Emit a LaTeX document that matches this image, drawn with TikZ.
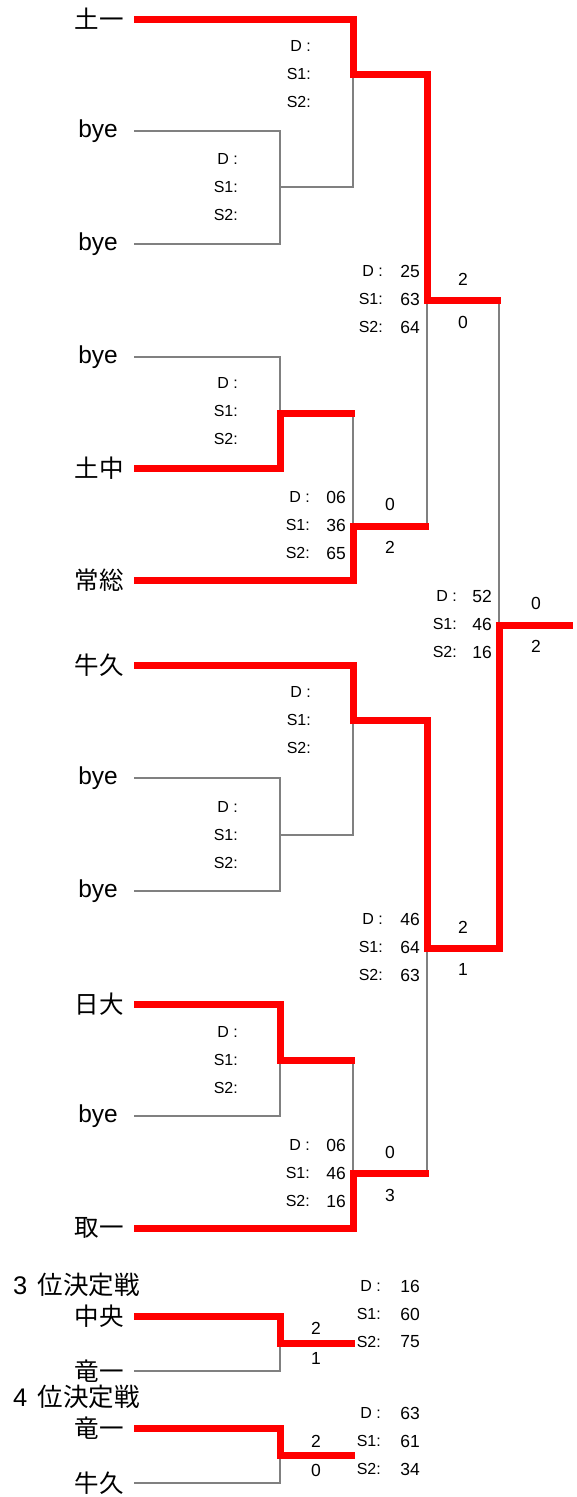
\documentclass[tikz,border=0pt]{standalone}
\usepackage{fontspec}
\setmainfont{Liberation Sans}
\newfontfamily\cjk{Noto Sans CJK JP}
\begin{document}
\begin{tikzpicture}[x=1pt,y=-1pt,
 win/.style={draw=red, line width=7pt, line join=miter, shorten >=-2pt},
 lose/.style={draw=black!50, line width=2.3pt},
 team/.style={anchor=east, inner sep=0pt, font=\fontsize{24.5}{24.5}\selectfont},
 title/.style={anchor=west, inner sep=0pt, font=\fontsize{25.5}{25.5}\selectfont},
 keylab/.style={anchor=east, inner sep=0pt, font=\fontsize{16}{16}\selectfont},
 vallab/.style={anchor=east, inner sep=0pt, font=\fontsize{17.5}{17.5}\selectfont},
 score/.style={inner sep=0pt, font=\fontsize{17.5}{17.5}\selectfont},
]
\useasboundingbox (0,0) rectangle (577,1497);
\newcommand{\matchinfo}[7]{%
  \node[keylab] (#1-kd) at (#2,#4-28) {D :};
  \node[keylab] (#1-k1) at (#2,#4) {S1:};
  \node[keylab] (#1-k2) at (#2,#4+28) {S2:};
  \node[vallab] (#1-vd) at (#3,#4-28) {#5};
  \node[vallab] (#1-v1) at (#3,#4) {#6};
  \node[vallab] (#1-v2) at (#3,#4+28) {#7};
}
% entry points
\coordinate (a1) at (134,19);
\coordinate (a2) at (134,131);
\coordinate (a3) at (134,244);
\coordinate (a4) at (134,357);
\coordinate (a5) at (134,468);
\coordinate (a6) at (134,580);
\coordinate (b1) at (134,665);
\coordinate (b2) at (134,778);
\coordinate (b3) at (134,891);
\coordinate (b4) at (134,1004);
\coordinate (b5) at (134,1116);
\coordinate (b6) at (134,1228);
\coordinate (c1) at (134,1316);
\coordinate (c2) at (134,1371);
\coordinate (d1) at (134,1428);
\coordinate (d2) at (134,1483);
% junctions
\coordinate (m23) at (280,187);
\coordinate (m1) at (353,74);
\coordinate (q1) at (427,300);
\coordinate (m45) at (280,413);
\coordinate (m2) at (353,526);
\coordinate (f) at (499,625);
\coordinate (champ) at (571,625);
\coordinate (m3) at (353,720);
\coordinate (mb23) at (280,835);
\coordinate (q2) at (427,948);
\coordinate (mb45) at (280,1060);
\coordinate (m4) at (353,1173);
\coordinate (mc) at (280,1343);
\coordinate (rc) at (353,1343);
\coordinate (md) at (280,1455);
\coordinate (rd) at (353,1455);
% team names
\node[team] (n1) at (124,19) {\cjk 土一};
\node[team] (n2) at (118,131) {bye};
\node[team] (n3) at (118,244) {bye};
\node[team] (n4) at (118,357) {bye};
\node[team] (n5) at (124,468) {\cjk 土中};
\node[team] (n6) at (124,580) {\cjk 常総};
\node[team] (n7) at (124,665) {\cjk 牛久};
\node[team] (n8) at (118,778) {bye};
\node[team] (n9) at (118,891) {bye};
\node[team] (n10) at (124,1004) {\cjk 日大};
\node[team] (n11) at (118,1116) {bye};
\node[team] (n12) at (124,1228) {\cjk 取一};
\node[title] (t3) at (13,1285) {3\hspace{0.4em}{\cjk 位決定戦}};
\node[team] (n13) at (124,1316) {\cjk 中央};
\node[team] (n14) at (124,1371) {\cjk 竜一};
\node[title] (t4) at (13,1397) {4\hspace{0.4em}{\cjk 位決定戦}};
\node[team] (n15) at (124,1428) {\cjk 竜一};
\node[team] (n16) at (124,1483) {\cjk 牛久};
% losing (gray) lines
\draw[lose] (a2) -| (m23) |- (a3);
\draw[lose] (m23) -| (m1);
\draw[lose] (a4) -| (m45);
\draw[lose] (m45) -| (m2);
\draw[lose] (m2) -| (q1);
\draw[lose] (q1) -| (f);
\draw[lose] (b2) -| (mb23) |- (b3);
\draw[lose] (mb23) -| (m3);
\draw[lose] (b5) -| (mb45);
\draw[lose] (mb45) -| (m4);
\draw[lose] (m4) -| (q2);
\draw[lose] (c2) -| (mc);
\draw[lose] (d2) -| (md);
% winning (red) lines
\draw[win] (a1) -| (m1) -| (q1) -- (q1 -| f);
\draw[win] (a5) -| (m45) -- (m45 -| m2);
\draw[win] (a6) -| (m2) -- (m2 -| q1);
\draw[win] (b1) -| (m3) -| (q2) -| (f) -- (champ);
\draw[win] (b4) -| (mb45) -- (mb45 -| m4);
\draw[win] (b6) -| (m4) -- (m4 -| q2);
\draw[win] (c1) -| (mc) -- (rc);
\draw[win] (d1) -| (md) -- (rd);
% match info
\matchinfo{i1}{311}{346}{74}{}{}{}
\matchinfo{i2}{238}{274}{187}{}{}{}
\matchinfo{i3}{383}{420}{299}{25}{63}{64}
\matchinfo{i4}{238}{274}{411}{}{}{}
\matchinfo{i5}{310}{346}{525}{06}{36}{65}
\matchinfo{i6}{457}{492}{624}{52}{46}{16}
\matchinfo{i7}{311}{346}{720}{}{}{}
\matchinfo{i8}{238}{274}{835}{}{}{}
\matchinfo{i9}{383}{420}{947}{46}{64}{63}
\matchinfo{i10}{238}{274}{1060}{}{}{}
\matchinfo{i11}{310}{346}{1173}{06}{46}{16}
\matchinfo{i12}{381}{420}{1314}{16}{60}{75}
\matchinfo{i13}{381}{420}{1441}{63}{61}{34}
% scores
\node[score] (s3a) at (463,279) {2};
\node[score] (s3b) at (463,322) {0};
\node[score] (s5a) at (390,504) {0};
\node[score] (s5b) at (390,547) {2};
\node[score] (s6a) at (536,603) {0};
\node[score] (s6b) at (536,646) {2};
\node[score] (s9a) at (463,927) {2};
\node[score] (s9b) at (463,969) {1};
\node[score] (s11a) at (390,1152) {0};
\node[score] (s11b) at (390,1195) {3};
\node[score] (s12a) at (316,1328) {2};
\node[score] (s12b) at (316,1358) {1};
\node[score] (s13a) at (316,1441) {2};
\node[score] (s13b) at (316,1470) {0};
\end{tikzpicture}
\end{document}
